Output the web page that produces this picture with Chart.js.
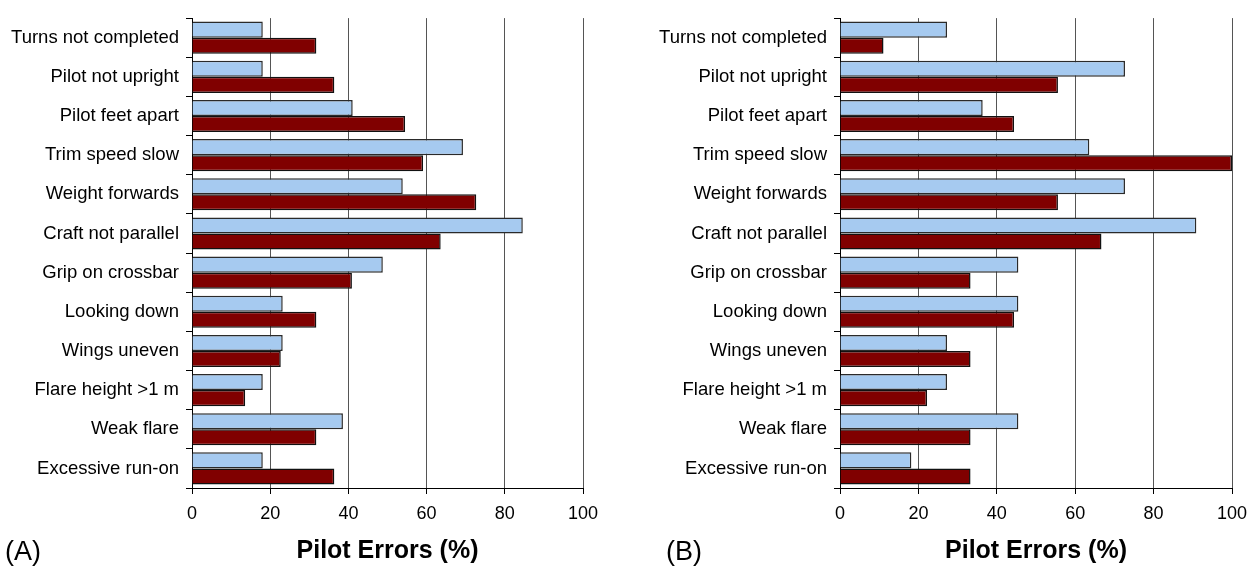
<!DOCTYPE html>
<html>
<head>
<meta charset="utf-8">
<script src="https://cdn.jsdelivr.net/npm/chart.js@4/dist/chart.umd.min.js"></script>
<style>
  body { margin: 0; background: #fff; width: 1249px; height: 569px; position: relative; overflow: hidden; }
  .panel { position: absolute; top: 0; height: 569px; }
  .tag { position: absolute; top: 536px; font-family: "Liberation Sans", Arial, sans-serif; font-size: 27px; color: #000; }
</style>
</head>
<body>
<div class="panel" style="left:0;width:624px;"><canvas id="chart-a" width="624" height="569"></canvas></div>
<div class="panel" style="left:624px;width:625px;"><canvas id="chart-b" width="625" height="569"></canvas></div>
<div class="tag" style="left:5px;">(A)</div>
<div class="tag" style="left:666px;">(B)</div>
<script>
const categories = [
  "Turns not completed", "Pilot not upright", "Pilot feet apart", "Trim speed slow",
  "Weight forwards", "Craft not parallel", "Grip on crossbar", "Looking down",
  "Wings uneven", "Flare height >1 m", "Weak flare", "Excessive run-on",
];
// panel A
const blueA = [18.1, 18.1, 41.1, 69.3, 53.9, 84.6, 48.8, 23.2, 23.2, 18.1, 38.6, 18.1];
const redA  = [31.8, 36.4, 54.5, 59.1, 72.7, 63.6, 40.9, 31.8, 22.7, 13.6, 31.8, 36.4];
// panel B
const blueB = [27.3, 72.7, 36.4, 63.6, 72.7, 90.9, 45.5, 45.5, 27.3, 27.3, 45.5, 18.2];
const redB  = [11.1, 55.6, 44.4, 100, 55.6, 66.7, 33.3, 44.4, 33.3, 22.2, 33.3, 33.3];
const xTicks = [0, 20, 40, 60, 80, 100];
const axisTitle = "Pilot Errors (%)";

const FONT = "'Liberation Sans', Arial, sans-serif";

function makeChart(id, blue, red, yWidth, padRight) {
  return new Chart(document.getElementById(id), {
    type: "bar",
    data: {
      labels: categories,
      datasets: [
        { label: "Series 1", data: blue, backgroundColor: "#a6caf0", borderColor: "#2a2a2a", borderWidth: 1.5 },
        { label: "Series 2", data: red,  backgroundColor: "#800000", borderColor: "#111", borderWidth: 1.5 },
      ],
    },
    options: {
      indexAxis: "y",
      responsive: false,
      animation: false,
      categoryPercentage: 0.82,
      barPercentage: 1,
      layout: { padding: { top: 15, right: padRight, left: 0, bottom: 0 } },
      plugins: { legend: { display: false }, tooltip: { enabled: false } },
      scales: {
        x: {
          min: xTicks[0],
          max: xTicks[xTicks.length - 1],
          afterBuildTicks: s => { s.ticks = xTicks.map(v => ({ value: v })); },
          afterFit: s => { s.height = 81; s.paddingLeft = 0; s.paddingRight = 0; },
          grid: { color: "#555", lineWidth: 1, tickColor: "#000", tickLength: 6 },
          border: { color: "#000", width: 1 },
          ticks: { color: "#000", font: { family: FONT, size: 18 }, padding: 9, maxRotation: 0 },
          title: {
            display: true, text: axisTitle, color: "#000",
            font: { family: FONT, size: 25, weight: "bold" },
            padding: { top: 0, bottom: 3 },
          },
        },
        y: {
          afterFit: s => { s.width = yWidth; },
          grid: { drawOnChartArea: false, tickColor: "#000", tickLength: 6, offset: true },
          border: { color: "#000", width: 1 },
          ticks: { color: "#000", font: { family: FONT, size: 18.5 }, padding: 7, autoSkip: false },
        },
      },
    },
  });
}

makeChart("chart-a", blueA, redA, 192, 41);
makeChart("chart-b", blueB, redB, 216, 17);
</script>
</body>
</html>
